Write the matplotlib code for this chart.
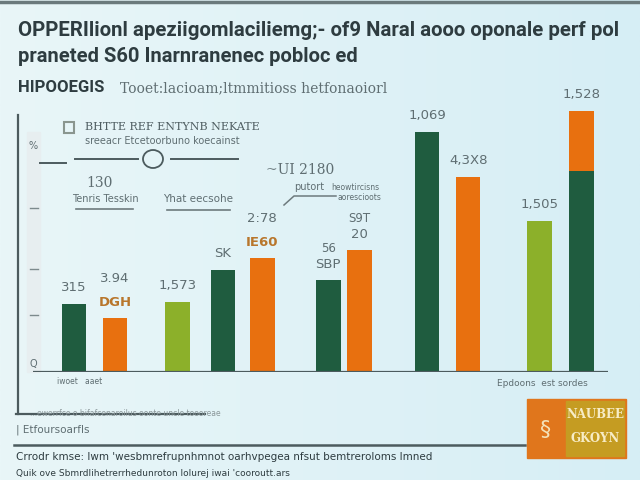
import matplotlib
matplotlib.use("Agg")
import matplotlib.pyplot as plt
import numpy as np
from matplotlib.lines import Line2D
from matplotlib.patches import Rectangle, Ellipse

# ---- data ----
bar_values = [68, 54, 70, 102, 114, 92, 122, 240, 195, 151, 201]
bar_kinds = ["dark", "orange", "light", "dark", "orange", "dark", "orange",
             "dark", "orange", "light", "dark"]
stack_top = [0, 0, 0, 0, 0, 0, 0, 0, 0, 0, 60]
bar_labels = ["315", "3.94", "1,573", "SK", "2:78", "56", "S9T",
              "1,069", "4,3X8", "1,505", "1,528"]
sub_labels = ["", "DGH", "", "", "IE60", "SBP", "20", "", "", "", ""]

title_lines = [
    "OPPERIlionl apeziigomlaciliemg;- of9 Naral aooo oponale perf pol",
    "praneted S60 Inarnranenec pobloc ed",
]
subtitle_bold = "HIPOOEGIS"
subtitle_rest = "Tooet:lacioam;ltmmitioss hetfonaoiorl"
footer_lines = [
    "Crrodr kmse: lwm 'wesbmrefrupnhmnot oarhvpegea nfsut bemtreroloms lmned",
    "Quik ove Sbmrdlihetrerrhedunroton lolurej iwai 'cooroutt.ars",
]

COLORS = {"dark": "#1f5c3f", "orange": "#e8700f", "light": "#8cb02a"}
TEXT = "#2e3c40"
GREY = "#5f6e72"
ACCENT = "#b8762c"

# bar slots (in bar-width units) and layout
slots = [0, 1, 2.52, 3.63, 4.59, 6.2, 6.96, 8.61, 9.61, 11.35, 12.37]


def px(x, y):
    return x / 640, 1 - y / 480


fig = plt.figure(figsize=(6.4, 4.8), dpi=100)

# soft background gradient
bg = fig.add_axes([0, 0, 1, 1], zorder=-10)
grad = np.linspace(0, 1, 256)[None, :]
bg.imshow(grad, aspect="auto", cmap=matplotlib.colors.LinearSegmentedColormap.from_list(
    "bg", ["#e9f6f8", "#d6eef5"]), extent=[0, 1, 0, 1])
bg.set_axis_off()

fig.add_artist(Line2D([0, 1], [1 - 2 / 480] * 2, color="#6b7a7c", lw=2.5))

# titles
fig.text(*px(18, 30), title_lines[0], fontsize=14.7, fontweight="bold", color=TEXT,
         va="center", family="Roboto")
fig.text(*px(18, 57), title_lines[1], fontsize=14.5, fontweight="bold", color=TEXT,
         va="center", family="Roboto")
fig.text(*px(18, 88), subtitle_bold, fontsize=12, fontweight="bold", color=TEXT,
         va="center", family="Roboto")
fig.text(*px(120, 88), subtitle_rest, fontsize=10, color=GREY, va="center",
         family="DejaVu Serif")

# bar chart area
ax = fig.add_axes([33 / 640, (480 - 372) / 480, (608 - 33) / 640, 272 / 480])
ax.set_xlim(-1.0, 13.02)
ax.set_ylim(0, 272)
ax.set_axis_off()

for s, v, k, top in zip(slots, bar_values, bar_kinds, stack_top):
    ax.bar(s, v, width=0.6, color=COLORS[k])
    if top:
        ax.bar(s, top, bottom=v, width=0.6, color=COLORS["orange"])
ax.axhline(0, color="#4c5b5e", lw=1.6)

# value labels above bars
for s, v, top, lab, sub in zip(slots, bar_values, stack_top, bar_labels, sub_labels):
    y = v + top
    if sub:
        accent = sub in ("DGH", "IE60")
        ax.text(s, y + 9, sub, ha="center", va="bottom", fontsize=9.5,
                color=ACCENT if accent else GREY,
                fontweight="bold" if accent else "normal")
        ax.text(s, y + 33 if accent else y + 25, lab, ha="center", va="bottom",
                fontsize=9.5 if accent else 8.5, color=GREY)
    else:
        ax.text(s, y + 10, lab, ha="center", va="bottom", fontsize=9.5, color=GREY)

# left axis and strip
fig.add_artist(Line2D([18 / 640] * 2, [1 - 115 / 480, 1 - 414 / 480], color="#4c5b5e", lw=1.6))
fig.add_artist(Line2D([16 / 640, 205 / 640], [1 - 414 / 480] * 2, color="#4c5b5e", lw=1.6))
fig.add_artist(Rectangle(px(27, 372), 13 / 640, 240 / 480, color="#e7eef0", alpha=0.9, zorder=0))
for yy in (208, 269, 315):
    fig.add_artist(Line2D([30 / 640, 38 / 640], [1 - yy / 480] * 2, color="#7d8a8d", lw=1))
fig.text(*px(33, 146), "%", fontsize=7, color=GREY, ha="center", va="center")
fig.text(*px(33, 364), "Q", fontsize=7, color=GREY, ha="center", va="center")

# legend-like note
fig.add_artist(Rectangle(px(64, 133), 10 / 640, 11 / 480, fill=False, ec="#8a968f", lw=1.5))
fig.text(*px(85, 127), "BHTTE REF ENTYNB NEKATE", fontsize=8, color="#4f5e62",
         va="center", family="DejaVu Serif")
fig.text(*px(85, 141), "sreeacr Etcetoorbuno koecainst", fontsize=7, color=GREY, va="center")
fig.add_artist(Line2D([40 / 640, 66 / 640], [1 - 163 / 480] * 2, color="#4c5b5e", lw=1.4))
fig.add_artist(Line2D([75 / 640, 138 / 640], [1 - 159 / 480] * 2, color="#4c5b5e", lw=1.4))
fig.add_artist(Line2D([171 / 640, 238 / 640], [1 - 159 / 480] * 2, color="#4c5b5e", lw=1.4))
fig.add_artist(Ellipse(px(153, 159), 20 / 640, 18 / 480, fill=False, ec="#4c5b5e", lw=1.3))

fig.text(*px(100, 183), "130", fontsize=10, color=GREY, ha="center", va="center",
         family="DejaVu Serif")
fig.text(*px(105, 199), "Tenris Tesskin", fontsize=7, color=GREY, ha="center", va="center")
fig.add_artist(Line2D([76 / 640, 133 / 640], [1 - 209 / 480] * 2, color="#6d7a7d", lw=1.2))
fig.text(*px(198, 199), "Yhat eecsohe", fontsize=7.5, color=GREY, ha="center", va="center")
fig.add_artist(Line2D([167 / 640, 230 / 640], [1 - 210 / 480] * 2, color="#6d7a7d", lw=1.2))

fig.text(*px(300, 170), "~UI 2180", fontsize=10, color=GREY, ha="center", va="center",
         family="DejaVu Serif")
fig.text(*px(294, 187), "putort", fontsize=7, color=GREY, ha="left", va="center")
fig.text(*px(331, 187), "heowtircisns", fontsize=5.5, color=GREY, ha="left", va="center")
fig.text(*px(338, 197), "aorescioots", fontsize=5.5, color=GREY, ha="left", va="center")
fig.add_artist(Line2D([284 / 640, 294 / 640, 336 / 640],
                      [1 - 205 / 480, 1 - 196 / 480, 1 - 196 / 480], color="#6d7a7d", lw=1.1))

# under-axis labels
fig.text(*px(80, 381), "iwoet   aaet", fontsize=5.5, color=GREY, ha="center", va="center")
fig.text(*px(542, 384), "Epdoons  est sordes", fontsize=6.5, color=GREY, ha="center", va="center")

fig.text(*px(30, 414), "...ewerrfce o bifafcenaroilus oonte uncle toooreae", fontsize=5.5,
         color="#8a9699", va="center")
fig.text(*px(16, 430), "| Etfoursoarfls", fontsize=7.5, color=GREY, va="center")
fig.add_artist(Line2D([14 / 640, 525 / 640], [1 - 445 / 480] * 2, color="#4c5b5e", lw=1.8))
fig.text(*px(16, 457), footer_lines[0], fontsize=7.5, color=TEXT, va="center")
fig.text(*px(16, 473), footer_lines[1], fontsize=6.5, color=TEXT, va="center")

# logo block
fig.add_artist(Rectangle(px(527, 458), 99 / 640, 59 / 480, color="#e0761c", zorder=2))
fig.add_artist(Rectangle(px(566, 456), 58 / 640, 55 / 480, color="#c59c22", zorder=3))
fig.text(*px(595, 414), "NAUBEE", fontsize=8.5, fontweight="bold", color="#f7ecc6",
         ha="center", va="center", family="DejaVu Serif", zorder=4)
fig.text(*px(595, 438), "GKOYN", fontsize=8.5, fontweight="bold", color="#f7ecc6",
         ha="center", va="center", family="DejaVu Serif", zorder=4)
fig.text(*px(546, 430), "§", fontsize=16, color="#f4e2b8", ha="center", va="center", zorder=4)

fig.savefig("out.png", dpi=100)
